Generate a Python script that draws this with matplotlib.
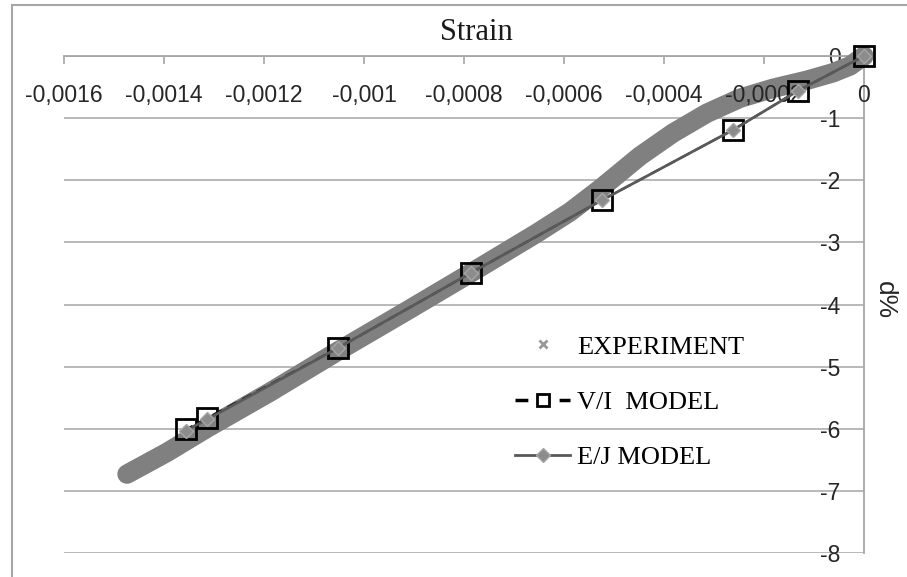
import matplotlib
matplotlib.use('Agg')
import matplotlib.pyplot as plt
from matplotlib.patches import Rectangle

# values (strain vs d%)
exp_x = [-0.001474, -0.001394, -0.001314, -0.001188, -0.001052, -0.000918, -0.000786,
         -0.000654, -0.000588, -0.000528, -0.000448, -0.000382, -0.000314, -0.000248,
         -0.000182, -0.000114, -0.000062, -0.000028, 0.0]
exp_y = [-6.73, -6.38, -5.99, -5.41, -4.75, -4.12, -3.49,
         -2.85, -2.51, -2.14, -1.61, -1.24, -0.92, -0.68,
         -0.52, -0.39, -0.27, -0.16, 0.0]

vi_x = [0.0, -0.000132, -0.000262, -0.000524, -0.000786, -0.001052, -0.001314, -0.001356]
vi_y = [0.0, -0.56, -1.19, -2.32, -3.49, -4.70, -5.83, -6.01]

ej_x = [0.0, -0.000132, -0.000262, -0.000524, -0.000786, -0.001052, -0.001314, -0.001356]
ej_y = [0.0, -0.56, -1.19, -2.32, -3.49, -4.70, -5.85, -6.03]

strain_ticks = [-0.0016, -0.0014, -0.0012, -0.001, -0.0008, -0.0006, -0.0004, -0.0002, 0]
strain_labels = ['-0,0016', '-0,0014', '-0,0012', '-0,001', '-0,0008', '-0,0006',
                 '-0,0004', '-0,0002', '0']
d_ticks = [0, -1, -2, -3, -4, -5, -6, -7, -8]
d_labels = ['0', '-1', '-2', '-3', '-4', '-5', '-6', '-7', '-8']

W, H = 907, 577
fig = plt.figure(figsize=(W / 100, H / 100), dpi=100)
ax = fig.add_axes([64 / W, 1 - 553 / H, 800 / W, 497 / H])

# experiment: thick band of grey crosses
ax.plot(exp_x, exp_y, color='#808080', lw=14, solid_capstyle='round',
        solid_joinstyle='round', zorder=2, clip_on=False)
ax.plot(exp_x, exp_y, ls='none', marker='x', ms=9, mew=3, color='#808080',
        label='EXPERIMENT', zorder=2, clip_on=False)

ax.plot(vi_x, vi_y, ls=(0, (5, 3)), color='black', lw=1.5, marker='s', ms=14,
        mfc='none', mec='black', mew=2, label='V/I  MODEL', zorder=4, clip_on=False)
ax.plot(ej_x, ej_y, color='#595959', lw=2, marker='D', ms=7, mfc='#8c8c8c',
        mec='#a6a6a6', label='E/J MODEL', zorder=5, clip_on=False)

ax.set_xlim(-0.0016, 0)
ax.set_ylim(-8, 0)

ax.set_xticks(strain_ticks)
ax.set_xticklabels(strain_labels)
ax.set_yticks(d_ticks)
ax.set_yticklabels(d_labels)

ax.grid(axis='y', color='#b3b3b3', lw=1.3)
# grid under the band, strain labels over it
ax.yaxis.set_zorder(0.5)
ax.xaxis.set_zorder(3)

ax.spines['top'].set_visible(False)
ax.spines['left'].set_visible(False)
ax.spines['bottom'].set_position(('data', 0))
ax.spines['bottom'].set_color('#a6a6a6')
ax.spines['bottom'].set_linewidth(1.3)
ax.spines['bottom'].set_zorder(1)
ax.spines['right'].set_color('#a6a6a6')
ax.spines['right'].set_linewidth(1.3)
ax.spines['right'].set_zorder(1)

ax.tick_params(axis='x', direction='out', length=6, width=1.2, color='#a6a6a6',
               pad=14, labelsize=16.5, labelcolor='#262626')
ax.yaxis.tick_right()
ax.tick_params(axis='y', length=0, pad=-17, labelsize=16.5, labelcolor='#262626')
for lbl in ax.get_yticklabels():
    lbl.set_horizontalalignment('right')
for lbl in ax.get_xticklabels() + ax.get_yticklabels():
    lbl.set_family('Liberation Sans')

ax.yaxis.set_label_position('right')
ax.set_ylabel('d%', rotation=270, fontsize=19, family='Liberation Sans',
              color='#262626', ha='center', va='center')
ax.yaxis.set_label_coords(1.026, 0.509)

ax.set_title('Strain', x=0.516, y=1.048, pad=0, va='center', fontsize=22,
             family='Liberation Serif', color='#1a1a1a')

leg = ax.legend(loc='center left', bbox_to_anchor=(515 / W, 1 - 402 / H),
                bbox_transform=fig.transFigure, frameon=False,
                prop={'family': 'Liberation Serif', 'size': 19},
                handlelength=2.1, handletextpad=0.25, labelspacing=1.2,
                borderpad=0, borderaxespad=0)
for h, ms in zip(leg.legend_handles, [6, 8, 7]):
    h.set_markersize(ms)
leg.legend_handles[0].set_color('#999999')
leg.legend_handles[0].set_markeredgewidth(2)
leg.legend_handles[1].set_linewidth(2.5)
leg.legend_handles[1].set_linestyle((0, (3.7, 9.0)))

# outer chart border
fig.add_artist(Rectangle((12 / W, -0.5), 2, 0.5 + 1 - 5 / H, transform=fig.transFigure,
                         fill=False, ec='#a6a6a6', lw=1.5))

fig.savefig('out.png', dpi=100)
